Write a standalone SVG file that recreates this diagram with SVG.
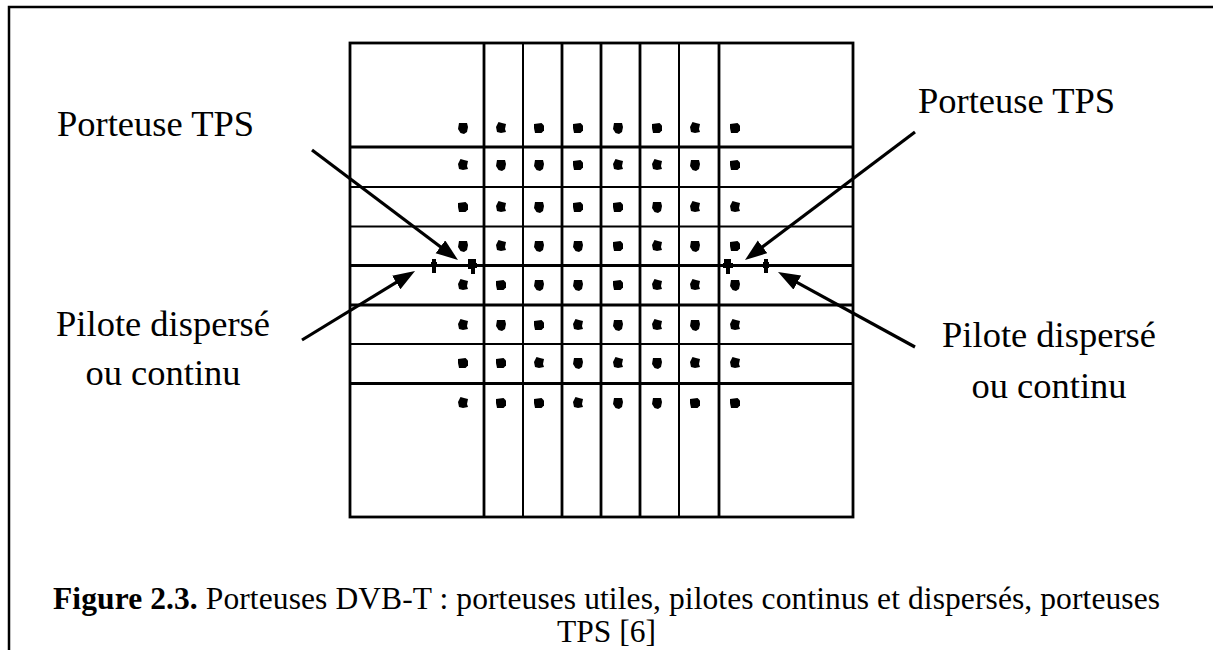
<svg xmlns="http://www.w3.org/2000/svg" width="1213" height="650" viewBox="0 0 1213 650">
<style>
.bg{fill:#fff}
.frame{stroke:#000;stroke-width:2.5;fill:none}
.thick{stroke:#000;stroke-width:2.8;fill:none}
.thin{stroke:#000;stroke-width:2;fill:none}
.lbl{font-family:"Liberation Serif","Times New Roman",serif;font-size:36.5px;fill:#000}
.cap{font-family:"Liberation Serif","Times New Roman",serif;font-size:31.5px;fill:#000}
.arrow{stroke:#000;stroke-width:3.2;fill:none;marker-end:url(#ah)}
.dot{fill:#000}
</style>
<defs>
<marker id="ah" markerUnits="userSpaceOnUse" markerWidth="24" markerHeight="18" refX="12" refY="8" orient="auto">
<path d="M0,0 L22,8 L0,16 Z" fill="#000"/>
</marker>
<path id="b1" d="M-4,-5 L4,-5 L5,-1 L4,4 L1,6 L-2.5,5 L-5,1 Z"/>
<path id="b2" d="M-5,-4 L2.5,-5 L5,-2.5 L5,2.5 L2.5,5 L-4,5 L-5,0 Z"/>
<path id="b3" d="M-2.5,-6 L1,-5 L5,-4 L4,1 L5,4 L0,5 L-4,4 L-5,-1 Z"/>
</defs>
<rect class="bg" x="0" y="0" width="1213" height="650"/>
<g id="frame">
<path class="frame" d="M9,650 L9,7 L1213,7"/>
</g>
<g id="grid">
<rect class="thick" x="350" y="43" width="503" height="474"/>
<line class="thick" x1="484" y1="43" x2="484" y2="517"/>
<line class="thin" x1="523" y1="43" x2="523" y2="517"/>
<line class="thick" x1="562" y1="43" x2="562" y2="517"/>
<line class="thick" x1="601" y1="43" x2="601" y2="517"/>
<line class="thick" x1="640" y1="43" x2="640" y2="517"/>
<line class="thin" x1="679" y1="43" x2="679" y2="517"/>
<line class="thick" x1="719" y1="43" x2="719" y2="517"/>
<line class="thick" x1="350" y1="147" x2="853" y2="147"/>
<line class="thin" x1="350" y1="187" x2="853" y2="187"/>
<line class="thin" x1="350" y1="226.5" x2="853" y2="226.5"/>
<line class="thick" x1="350" y1="265.5" x2="853" y2="265.5"/>
<line class="thick" x1="350" y1="305" x2="853" y2="305"/>
<line class="thin" x1="350" y1="344" x2="853" y2="344"/>
<line class="thick" x1="350" y1="383.5" x2="853" y2="383.5"/>
</g>
<g id="carriers" class="dot">
<use href="#b1" x="463" y="128"/><use href="#b3" x="501" y="128"/><use href="#b2" x="539" y="128"/><use href="#b2" x="578" y="128"/><use href="#b1" x="618" y="128"/><use href="#b2" x="657" y="128"/><use href="#b3" x="695" y="128"/><use href="#b2" x="735" y="128"/>
<use href="#b3" x="463" y="165"/><use href="#b1" x="501" y="165"/><use href="#b1" x="539" y="165"/><use href="#b2" x="578" y="165"/><use href="#b3" x="618" y="165"/><use href="#b3" x="657" y="165"/><use href="#b1" x="695" y="165"/><use href="#b2" x="735" y="165"/>
<use href="#b2" x="463" y="207"/><use href="#b3" x="501" y="207"/><use href="#b1" x="539" y="207"/><use href="#b2" x="578" y="207"/><use href="#b2" x="618" y="207"/><use href="#b1" x="657" y="207"/><use href="#b3" x="695" y="207"/><use href="#b3" x="735" y="207"/>
<use href="#b1" x="463" y="246"/><use href="#b3" x="501" y="246"/><use href="#b1" x="539" y="246"/><use href="#b1" x="578" y="246"/><use href="#b2" x="618" y="246"/><use href="#b3" x="657" y="246"/><use href="#b1" x="695" y="246"/><use href="#b2" x="735" y="246"/>
<use href="#b3" x="463" y="285"/><use href="#b2" x="501" y="285"/><use href="#b1" x="539" y="285"/><use href="#b1" x="578" y="285"/><use href="#b2" x="618" y="285"/><use href="#b3" x="657" y="285"/><use href="#b3" x="695" y="285"/><use href="#b1" x="735" y="285"/>
<use href="#b3" x="463" y="325"/><use href="#b1" x="501" y="325"/><use href="#b2" x="539" y="325"/><use href="#b3" x="578" y="325"/><use href="#b1" x="618" y="325"/><use href="#b3" x="657" y="325"/><use href="#b1" x="695" y="325"/><use href="#b3" x="735" y="325"/>
<use href="#b2" x="463" y="363"/><use href="#b2" x="501" y="363"/><use href="#b3" x="539" y="363"/><use href="#b1" x="578" y="363"/><use href="#b3" x="618" y="363"/><use href="#b1" x="657" y="363"/><use href="#b3" x="695" y="363"/><use href="#b3" x="735" y="363"/>
<use href="#b3" x="463" y="403"/><use href="#b2" x="501" y="403"/><use href="#b2" x="539" y="403"/><use href="#b3" x="578" y="403"/><use href="#b1" x="618" y="403"/><use href="#b1" x="657" y="403"/><use href="#b2" x="695" y="403"/><use href="#b2" x="735" y="403"/>
</g>
<g id="pilots" class="dot">
<path d="M432,259 h4 v3 h1 v5 h-1 v6 h-4 v-6 h-1 v-5 h1 Z"/>
<path d="M468,259 h8 v4 h1 v5 h-2 v6 h-4 v-5 h-3 v-6 Z"/>
<path d="M724,259 h7 v4 h2 v5 h-3 v6 h-4 v-6 h-3 v-5 h1 Z"/>
<path d="M764,259 h4 v3 h1 v6 h-1 v5 h-4 v-5 h-1 v-6 h1 Z"/>
</g>
<g id="connectors">
<path class="arrow" d="M312,150 L450,254"/>
<path class="arrow" d="M302,340 L406.5,276.2"/>
<path class="arrow" d="M915,132 L753,254"/>
<path class="arrow" d="M915,347 L786.8,276.8"/>
</g>
<g id="label-tps-left"><text class="lbl" x="57" y="136">Porteuse TPS</text></g>
<g id="label-pilot-left">
<text class="lbl" x="163" y="336" text-anchor="middle">Pilote dispersé</text>
<text class="lbl" x="163" y="385" text-anchor="middle">ou continu</text>
</g>
<g id="label-tps-right"><text class="lbl" x="918" y="113">Porteuse TPS</text></g>
<g id="label-pilot-right">
<text class="lbl" x="1049" y="347" text-anchor="middle">Pilote dispersé</text>
<text class="lbl" x="1049" y="398" text-anchor="middle">ou continu</text>
</g>
<g id="caption">
<text class="cap" x="53" y="609" textLength="1107" lengthAdjust="spacing"><tspan font-weight="bold">Figure 2.3.</tspan> Porteuses DVB-T : porteuses utiles, pilotes continus et dispersés, porteuses</text>
<text class="cap" x="606.5" y="642" text-anchor="middle">TPS [6]</text>
</g>
</svg>
